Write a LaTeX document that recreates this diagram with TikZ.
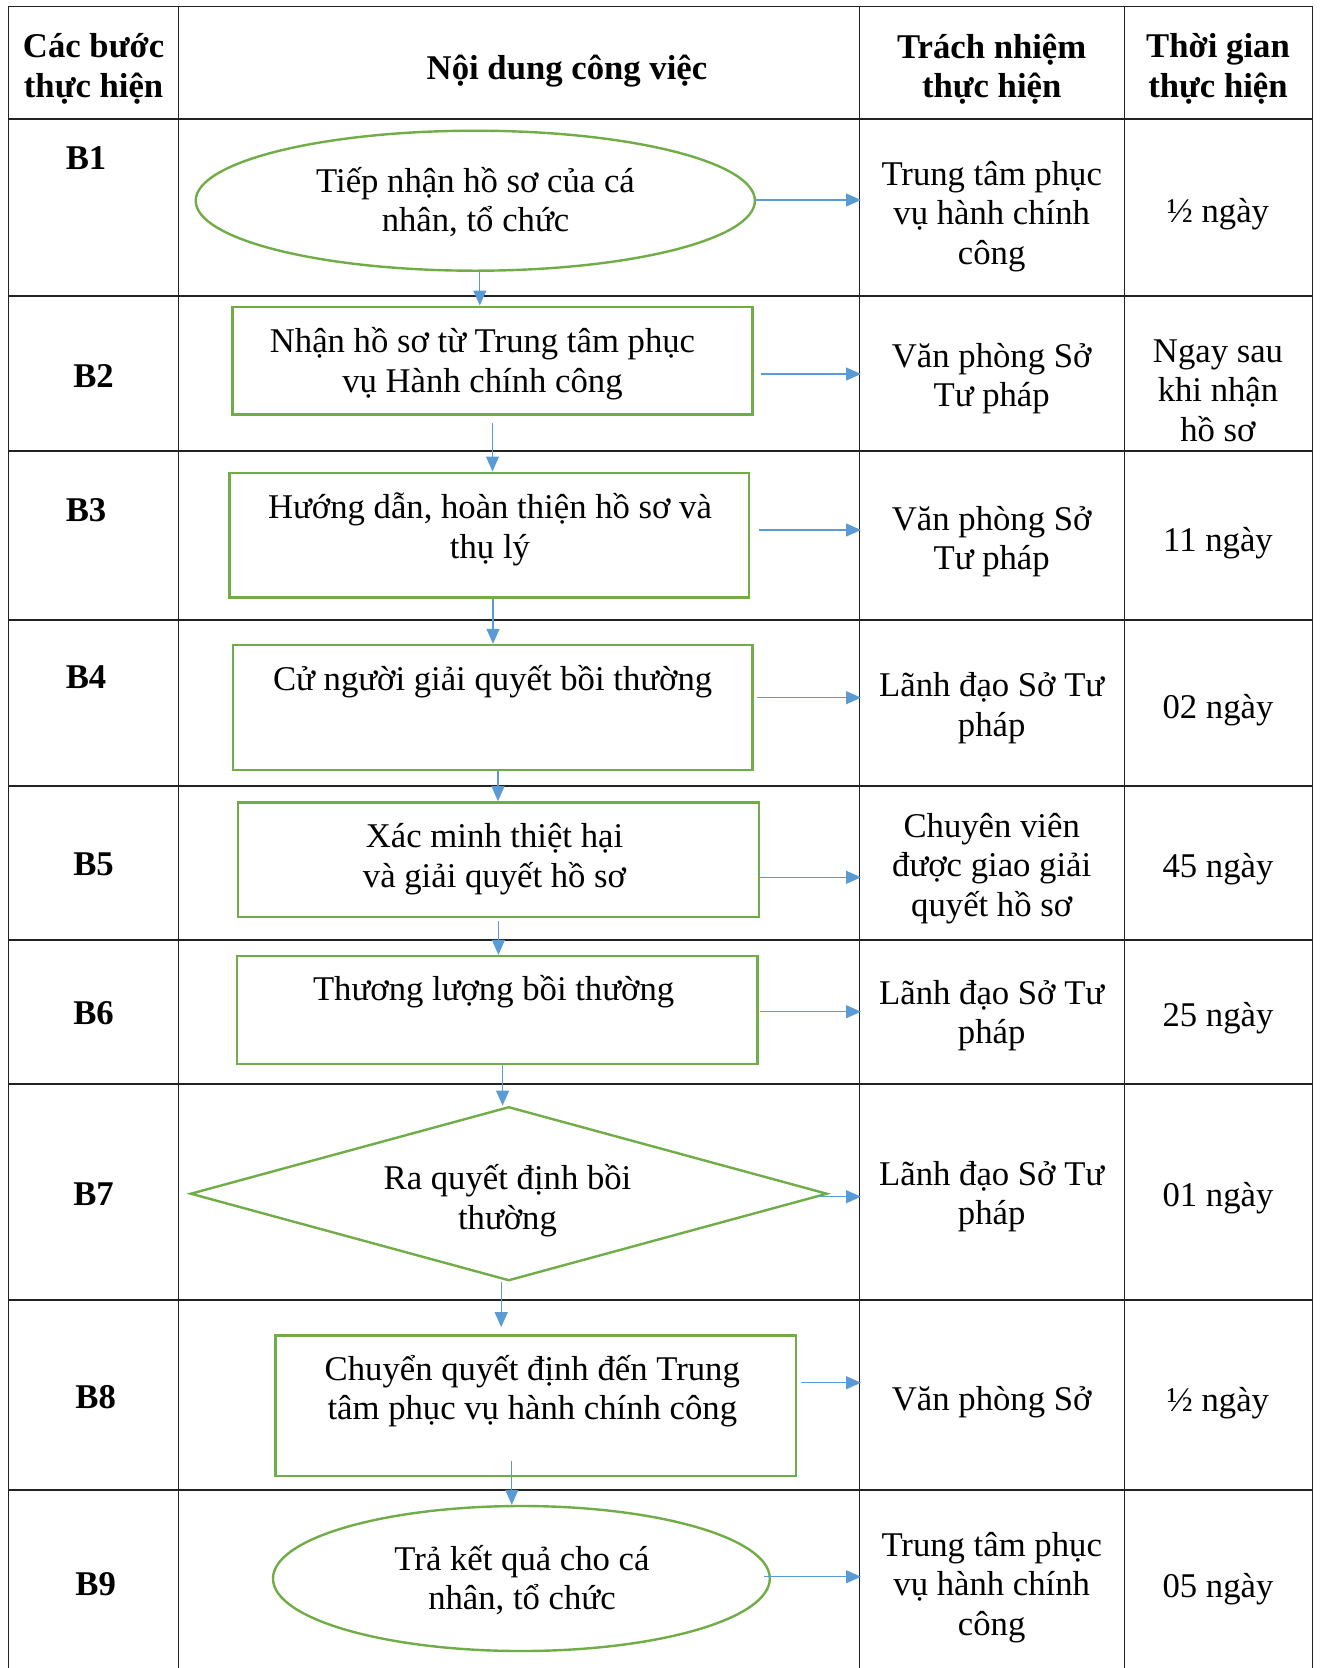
\documentclass[tikz,border=0pt]{standalone}
\usepackage{fontspec}
\setmainfont{Liberation Serif}
\usetikzlibrary{shapes.geometric,arrows.meta}
\definecolor{flowgreen}{HTML}{70AD47}
\definecolor{arrowblue}{HTML}{5B9BD5}
\definecolor{gridcol}{HTML}{222222}
\tikzset{
  tablerule/.style={draw=gridcol,line width=1.3pt},
  box/.style={draw=flowgreen,line width=2.4pt,rectangle,inner sep=0pt},
  oval/.style={draw=flowgreen,line width=2.4pt,ellipse,inner sep=0pt},
  rhomb/.style={draw=flowgreen,line width=2.4pt,diamond,inner sep=0pt},
  arr/.style={draw=arrowblue,line width=1.2pt,-{Triangle[length=15pt,width=13pt]}},
  txt/.style={font=\fontsize{34.7}{39.5}\selectfont,align=center,inner sep=0pt,yshift=-3pt,
    execute at begin node=\strut,execute at end node=\strut},
  hdr/.style={txt,font=\fontsize{34.7}{39.5}\selectfont\bfseries},
}
\begin{document}
\begin{tikzpicture}[x=1pt,y=-1pt]
\useasboundingbox[fill=white] (0,0) rectangle (1321,1668);
% table grid
\foreach \yy in {6.4,119,296,451,620,786,940,1084,1300,1490}
  \draw[tablerule] (8.5,\yy) -- (1312.5,\yy);
\foreach \xx in {8.5,178.7,859.4,1124.2,1312.5}
  \draw[tablerule] (\xx,6.4) -- (\xx,1668);
% headers
\node[hdr] (h1) at (93.6,68.5) {Các bước\\thực hiện};
\node[hdr] (h2) at (567,68.5) {Nội dung công việc};
\node[hdr] (h3) at (991.7,68.5) {Trách nhiệm\\thực hiện};
\node[hdr] (h4) at (1218,68.5) {Thời gian\\thực hiện};
% step labels
\node[hdr] (s1) at (86,158.5) {B1};
\node[hdr] (s2) at (93.6,376.4) {B2};
\node[hdr] (s3) at (86,510.5) {B3};
\node[hdr] (s4) at (86,677.5) {B4};
\node[hdr] (s5) at (93.6,864.6) {B5};
\node[hdr] (s6) at (93.6,1013.6) {B6};
\node[hdr] (s7) at (93.6,1194.4) {B7};
\node[hdr] (s8) at (95.7,1397.5) {B8};
\node[hdr] (s9) at (95.7,1584.7) {B9};
% flow shapes
\node[oval,minimum width=559.2pt,minimum height=140pt] (b1) at (475.3,200.7) {};
\node[box,minimum width=519.8pt,minimum height=107.6pt] (b2) at (492.5,360.5) {};
\node[box,minimum width=519.8pt,minimum height=124.6pt] (b3) at (489.3,535) {};
\node[box,minimum width=519.4pt,minimum height=125pt] (b4) at (492.7,707.5) {};
\node[box,minimum width=520.8pt,minimum height=114.4pt] (b5) at (498.4,859.5) {};
\node[box,minimum width=520.2pt,minimum height=108pt] (b6) at (497.3,1010) {};
\node[rhomb,minimum width=636.8pt,minimum height=174pt] (b7) at (508.8,1193.7) {};
\node[box,minimum width=520.7pt,minimum height=140.7pt] (b8) at (535.65,1405.65) {};
\node[oval,minimum width=496.8pt,minimum height=145pt] (b9) at (521.4,1578.5) {};
% flow texts
\node[txt] (t1) at (475.5,202.5) {Tiếp nhận hồ sơ của cá\\nhân, tổ chức};
\node[txt] (t2) at (482.5,362.9) {Nhận hồ sơ từ Trung tâm phục\\vụ Hành chính công};
\node[txt] (t3) at (490,528.7) {Hướng dẫn, hoàn thiện hồ sơ và\\thụ lý};
\node[txt] (t4) at (492.6,680) {Cử người giải quyết bồi thường};
\node[txt] (t5) at (494.5,858.4) {Xác minh thiệt hại\\và giải quyết hồ sơ};
\node[txt] (t6) at (493.6,989.3) {Thương lượng bồi thường};
\node[txt] (t7) at (507.5,1200) {Ra quyết định bồi\\thường};
\node[txt] (t8) at (532.3,1390.3) {Chuyển quyết định đến Trung\\tâm phục vụ hành chính công};
\node[txt] (t9) at (522,1580.3) {Trả kết quả cho cá\\nhân, tổ chức};
% responsibility column
\node[txt] (r1) at (991.7,215.4) {Trung tâm phục\\vụ hành chính\\công};
\node[txt] (r2) at (991.7,378) {Văn phòng Sở\\Tư pháp};
\node[txt] (r3) at (991.7,540.7) {Văn phòng Sở\\Tư pháp};
\node[txt] (r4) at (991.7,707.2) {Lãnh đạo Sở Tư\\pháp};
\node[txt] (r5) at (991.7,867.4) {Chuyên viên\\được giao giải\\quyết hồ sơ};
\node[txt] (r6) at (991.7,1015.1) {Lãnh đạo Sở Tư\\pháp};
\node[txt] (r7) at (991.7,1195.9) {Lãnh đạo Sở Tư\\pháp};
\node[txt] (r8) at (991.7,1399.6) {Văn phòng Sở};
\node[txt] (r9) at (991.7,1586.7) {Trung tâm phục\\vụ hành chính\\công};
% time column
\node[txt] (d1) at (1218,211.5) {½ ngày};
\node[txt] (d2) at (1218,393.1) {Ngay sau\\khi nhận\\hồ sơ};
\node[txt] (d3) at (1218,540.2) {11 ngày};
\node[txt] (d4) at (1218,707.2) {02 ngày};
\node[txt] (d5) at (1218,866.7) {45 ngày};
\node[txt] (d6) at (1218,1015.6) {25 ngày};
\node[txt] (d7) at (1218,1195.4) {01 ngày};
\node[txt] (d8) at (1218,1400.6) {½ ngày};
\node[txt] (d9) at (1218,1586.8) {05 ngày};
% right arrow end points
\coordinate (e1) at (861,200);
\coordinate (e2) at (861,374);
\coordinate (e3) at (861,530);
\coordinate (e4) at (861,697.7);
\coordinate (e5) at (861,877.3);
\coordinate (e6) at (861,1011.7);
\coordinate (e7) at (861,1196.7);
\coordinate (e8) at (861,1382.7);
\coordinate (e9) at (861,1576.7);
% right arrows
\draw[arr] (b1.east |- e1) -- (e1);
\draw[arr] ([xshift=7pt]b2.east |- e2) -- (e2);
\draw[arr] ([xshift=9pt]b3.east |- e3) -- (e3);
\draw[arr] ([xshift=3.6pt]b4.east |- e4) -- (e4);
\draw[arr] (b5.east |- e5) -- (e5);
\draw[arr] ([xshift=1pt]b6.east |- e6) -- (e6);
\draw[arr] ([xshift=-9pt]b7.east |- e7) -- (e7);
\draw[arr] ([xshift=3.7pt]b8.east |- e8) -- (e8);
\draw[arr] ([xshift=-7pt]b9.east |- e9) -- (e9);
% down arrows
\draw[arr] ([xshift=4.5pt]b1.south) -- ([xshift=4.5pt]b1.south |- b2.north);
\draw[arr] ([yshift=-7pt]b2.south) -- (b2.south |- b3.north);
\draw[arr] ([xshift=3.7pt]b3.south) -- ([xshift=3.7pt]b3.south |- b4.north);
\draw[arr] ([xshift=5.3pt]b4.south) -- ([xshift=5.3pt]b4.south |- b5.north);
\draw[arr] ([yshift=-3pt]b5.south) -- (b5.south |- b6.north);
\draw[arr] ([xshift=5.3pt]b6.south) -- ([xshift=5.3pt]b6.south |- b7.north);
\draw[arr] ([xshift=-7.6pt]b7.south) -- ([xshift=-7.6pt,yshift=7pt]b7.south |- b8.north);
\draw[arr] ([xshift=-23.85pt,yshift=16pt]b8.south) -- ([xshift=-23.85pt]b8.south |- b9.north);
\end{tikzpicture}
\end{document}
